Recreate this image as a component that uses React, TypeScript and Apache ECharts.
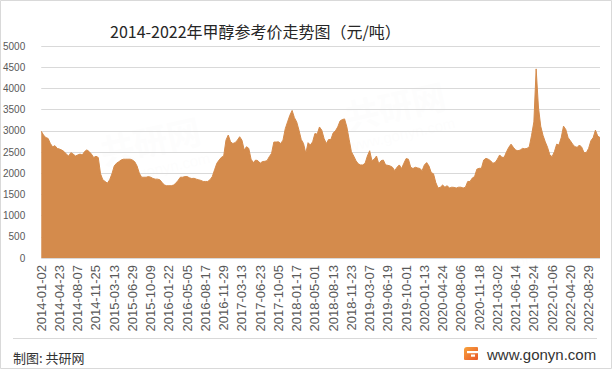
import React, { useEffect, useRef } from "react";
import * as echarts from "echarts";

const titleText = "2014-2022年甲醇参考价走势图（元/吨）";
const sourceText = "制图: 共研网";
const siteText = "www.gonyn.com";

const labelDates = [
  "2014-01-02", "2014-04-23", "2014-08-07", "2014-11-25", "2015-03-13", "2015-06-29",
  "2015-10-09", "2016-01-22", "2016-05-05", "2016-08-17", "2016-11-29", "2017-03-13",
  "2017-06-23", "2017-10-05", "2018-01-17", "2018-05-01", "2018-08-13", "2018-11-23",
  "2019-03-07", "2019-06-19", "2019-10-01", "2020-01-13", "2020-04-24", "2020-08-06",
  "2020-11-18", "2021-03-02", "2021-06-14", "2021-09-24", "2022-01-06", "2022-04-20",
  "2022-08-29",
];

// points sampled between consecutive labelled dates
const pointsPerLabel = 8;

const prices = [
  2990, 2900, 2840, 2820, 2700, 2620, 2650, 2585,
  2570, 2545, 2510, 2450, 2405, 2485, 2450, 2405,
  2430, 2450, 2430, 2510, 2550, 2510, 2450, 2370,
  2400, 2370, 1985, 1845, 1805, 1765, 1845, 1985,
  2170, 2235, 2270, 2310, 2330, 2330, 2330, 2330,
  2310, 2270, 2170, 2000, 1905, 1905, 1905, 1920,
  1905, 1875, 1860, 1860, 1845, 1780, 1720, 1705,
  1705, 1705, 1720, 1765, 1830, 1905, 1905, 1920,
  1920, 1890, 1875, 1880, 1860, 1845, 1830, 1805,
  1805, 1805, 1845, 1920, 2080, 2235, 2310, 2375,
  2405, 2780, 2900, 2740, 2700, 2720, 2780, 2860,
  2780, 2545, 2625, 2585, 2330, 2250, 2310, 2295,
  2235, 2275, 2280, 2295, 2390, 2470, 2735, 2735,
  2740, 2700, 2780, 3050, 3210, 3365, 3480, 3310,
  3210, 3015, 2795, 2700, 2470, 2720, 2665, 2740,
  2935, 2920, 3090, 3015, 2820, 2700, 2795, 2795,
  2950, 3000, 3090, 3230, 3265, 3280, 3090, 2795,
  2505, 2405, 2295, 2220, 2195, 2195, 2235, 2405,
  2530, 2295, 2330, 2405, 2220, 2295, 2310, 2195,
  2185, 2170, 2140, 2060, 2140, 2195, 2110, 2235,
  2345, 2330, 2140, 2110, 2140, 2125, 2110, 2060,
  2195, 2250, 2170, 2015, 1985, 1780, 1650, 1670,
  1720, 1670, 1705, 1650, 1670, 1665, 1650, 1670,
  1670, 1650, 1670, 1805, 1805, 1885, 1920, 2095,
  2115, 2115, 2310, 2350, 2330, 2295, 2235, 2250,
  2330, 2430, 2375, 2375, 2505, 2610, 2685, 2610,
  2545, 2530, 2545, 2585, 2575, 2585, 2625, 2895,
  3210, 4460, 3560, 3110, 2895, 2740, 2610, 2430,
  2390, 2505, 2685, 2665, 2840, 3110, 3030, 2840,
  2765, 2685, 2625, 2610, 2665, 2610, 2485, 2485,
  2585, 2765, 2840, 3015, 2875, 2840,
];

const yMax = 5000;
const yStep = 500;

const watermarkSpots = [
  [150, 140],
  [395, 105],
  [520, 230],
];

export default function App() {
  const ref = useRef<HTMLDivElement>(null);

  useEffect(() => {
    if (!ref.current) return;
    const chart = echarts.init(ref.current, null, { renderer: "svg" });

    const categories = prices.map((_, i) => {
      const k = Math.floor(i / pointsPerLabel);
      const base = labelDates[Math.min(k, labelDates.length - 1)];
      return i % pointsPerLabel === 0 && k < labelDates.length ? base : base + "#" + (i % pointsPerLabel);
    });

    const wmColor = "rgba(240,240,240,0.13)";
    const watermarks: any[] = watermarkSpots.map(([x, y]) => ({
      type: "group",
      x,
      y,
      rotation: 0.22,
      silent: true,
      z: 100,
      children: [
        {
          type: "text",
          x: 0,
          y: 0,
          style: {
            text: "共研网",
            font: "bold 34px 'Noto Sans CJK SC'",
            fill: wmColor,
            align: "center",
            verticalAlign: "middle",
          },
        },
        {
          type: "text",
          x: 0,
          y: 30,
          style: {
            text: "www.gonyn.com",
            font: "15px 'Liberation Sans'",
            fill: wmColor,
            align: "center",
            verticalAlign: "middle",
          },
        },
      ],
    }));

    chart.setOption({
      animation: false,
      backgroundColor: "#ffffff",
      grid: { left: 40, right: 12, top: 46, bottom: 111, containLabel: false },
      xAxis: {
        type: "category",
        data: categories,
        boundaryGap: false,
        axisLine: { show: false },
        axisTick: { show: false },
        axisLabel: {
          interval: pointsPerLabel - 1,
          rotate: 90,
          margin: 7,
          fontSize: 13,
          fontFamily: "Liberation Sans",
          color: "#595959",
        },
        splitLine: { show: false },
      },
      yAxis: {
        type: "value",
        min: 0,
        max: yMax,
        interval: yStep,
        axisLine: { show: false },
        axisTick: { show: false },
        axisLabel: {
          margin: 16,
          fontSize: 10,
          fontFamily: "Liberation Sans",
          color: "#595959",
          formatter: (v: number) => String(v),
        },
        splitLine: { lineStyle: { color: "#d9d9d9", width: 1 } },
      },
      series: [
        {
          type: "line",
          data: prices,
          symbol: "none",
          smooth: false,
          lineStyle: { color: "#D48B4C", width: 1 },
          areaStyle: { color: "#D48B4C", opacity: 1 },
          itemStyle: { color: "#D48B4C" },
        },
      ],
      graphic: [
        {
          type: "rect",
          shape: { x: 0.5, y: 0.5, width: 611, height: 368 },
          style: { fill: "none", stroke: "#d9d9d9", lineWidth: 1 },
          silent: true,
        },
        {
          type: "text",
          x: 110,
          y: 31,
          style: {
            text: titleText,
            font: "16px 'Noto Sans CJK SC'",
            fill: "#262626",
            align: "left",
            verticalAlign: "middle",
          },
        },
        {
          type: "line",
          shape: { x1: 13, y1: 338.5, x2: 597, y2: 338.5 },
          style: { stroke: "#d9d9d9", lineWidth: 1 },
        },
        {
          type: "text",
          x: 13,
          y: 357,
          style: {
            text: sourceText,
            font: "13px 'Noto Sans CJK SC'",
            fill: "#333333",
            align: "left",
            verticalAlign: "middle",
          },
        },
        {
          type: "rect",
          shape: { x: 464, y: 347, width: 14, height: 13, r: [3, 1, 1, 1] },
          style: {
            fill: new echarts.graphic.LinearGradient(0, 0, 1, 1, [
              { offset: 0, color: "#f8a33c" },
              { offset: 1, color: "#e8572a" },
            ]),
          },
        },
        {
          type: "rect",
          shape: { x: 467, y: 351, width: 11, height: 2.2 },
          style: { fill: "#ffffff" },
        },
        {
          type: "rect",
          shape: { x: 471, y: 354.5, width: 4, height: 2.2 },
          style: { fill: "#ffffff" },
        },
        {
          type: "text",
          x: 487,
          y: 354,
          style: {
            text: siteText,
            font: "15px 'Liberation Sans'",
            fill: "#333333",
            align: "left",
            verticalAlign: "middle",
          },
        },
        ...watermarks,
      ],
    });

    return () => chart.dispose();
  }, []);

  return (
    <div
      ref={ref}
      style={{ position: "absolute", left: 0, top: 0, width: 612, height: 369 }}
    />
  );
}
